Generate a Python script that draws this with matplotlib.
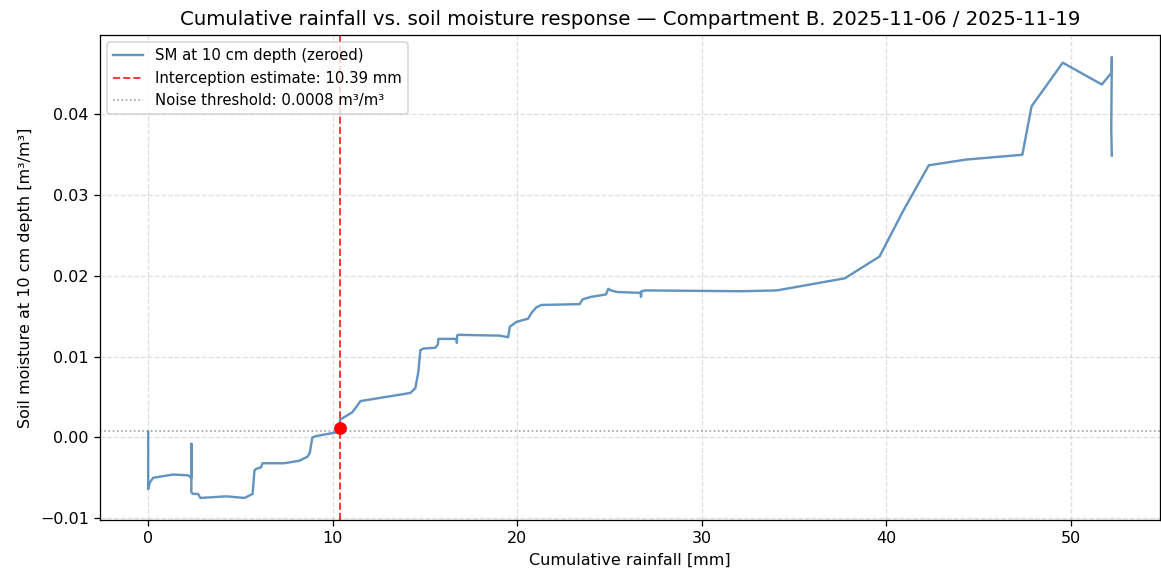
import numpy as np
import matplotlib
matplotlib.use("Agg")
import matplotlib.pyplot as plt

# cumulative rainfall [mm] and zeroed soil moisture at 10 cm [m3/m3]
rain_mm = [0.0, 0.0, 0.09, 0.27, 1.35, 2.16, 2.34, 2.34, 2.34, 2.43,
           2.70, 2.83, 4.23, 5.22, 5.66, 5.76, 5.85, 6.12, 6.20, 7.37,
           8.18, 8.63, 8.76, 8.90, 9.17, 10.16, 10.38, 10.40, 11.06, 11.51,
           14.21, 14.48, 14.65, 14.75, 14.92, 15.56, 15.70, 15.73, 16.72, 16.73,
           16.75, 16.78, 19.06, 19.51, 19.60, 19.96, 20.59, 20.77, 21.04, 21.31,
           23.38, 23.55, 24.00, 24.81, 24.94, 25.08, 25.44, 26.70, 26.71, 26.74,
           26.97, 32.18, 34.07, 37.76, 39.64, 40.91, 42.31, 44.32, 47.38, 47.88,
           49.57, 51.69, 52.23, 52.23, 52.20, 52.23]
sm_zeroed = [0.0007, -0.0064, -0.0056, -0.0050, -0.0046, -0.0047, -0.0050, -0.0008, -0.0068, -0.0070,
             -0.0070, -0.0075, -0.0073, -0.0075, -0.0070, -0.0041, -0.0039, -0.0037, -0.0032, -0.0032,
             -0.0029, -0.0024, -0.0019, 0.0000, 0.0002, 0.0006, 0.0007, 0.0022, 0.0031, 0.0045,
             0.0055, 0.0061, 0.0082, 0.0108, 0.0110, 0.0111, 0.0115, 0.0122, 0.0122, 0.0117,
             0.0126, 0.0127, 0.0126, 0.0124, 0.0137, 0.0143, 0.0147, 0.0154, 0.0161, 0.0164,
             0.0165, 0.0171, 0.0174, 0.0177, 0.0184, 0.0182, 0.0180, 0.0179, 0.0174, 0.0181,
             0.0182, 0.0181, 0.0182, 0.0197, 0.0224, 0.0280, 0.0337, 0.0344, 0.0350, 0.0410,
             0.0464, 0.0437, 0.0452, 0.0471, 0.0381, 0.0349]

interception_mm = 10.39
interception_sm = 0.0012
noise_threshold = 0.0008


def main():
    fig = plt.figure(figsize=(1161 / 115, 571 / 115), dpi=115)
    ax = fig.add_axes([100 / 1161, 51 / 571, 1060 / 1161, 485 / 571])

    ax.plot(rain_mm, sm_zeroed, color="steelblue", lw=1.5, alpha=0.85,
            label="SM at 10 cm depth (zeroed)")
    ax.axvline(interception_mm, color="red", ls="--", lw=1.2, alpha=0.8,
               label=f"Interception estimate: {interception_mm:.2f} mm")
    ax.axhline(noise_threshold, color="gray", ls=":", lw=1, alpha=0.8,
               label=f"Noise threshold: {noise_threshold} m³/m³")
    ax.plot([interception_mm], [interception_sm], "o", color="red", ms=7, zorder=5)

    ax.set_xlabel("Cumulative rainfall [mm]")
    ax.set_ylabel("Soil moisture at 10 cm depth [m³/m³]")
    ax.set_title("Cumulative rainfall vs. soil moisture response — Compartment B. 2025-11-06 / 2025-11-19",
                 fontsize=12.4)
    ax.grid(True, ls="--", alpha=0.4)
    ax.legend(loc="upper left", fontsize=9.3)

    fig.savefig("out.png", dpi=115)


if __name__ == "__main__":
    main()
